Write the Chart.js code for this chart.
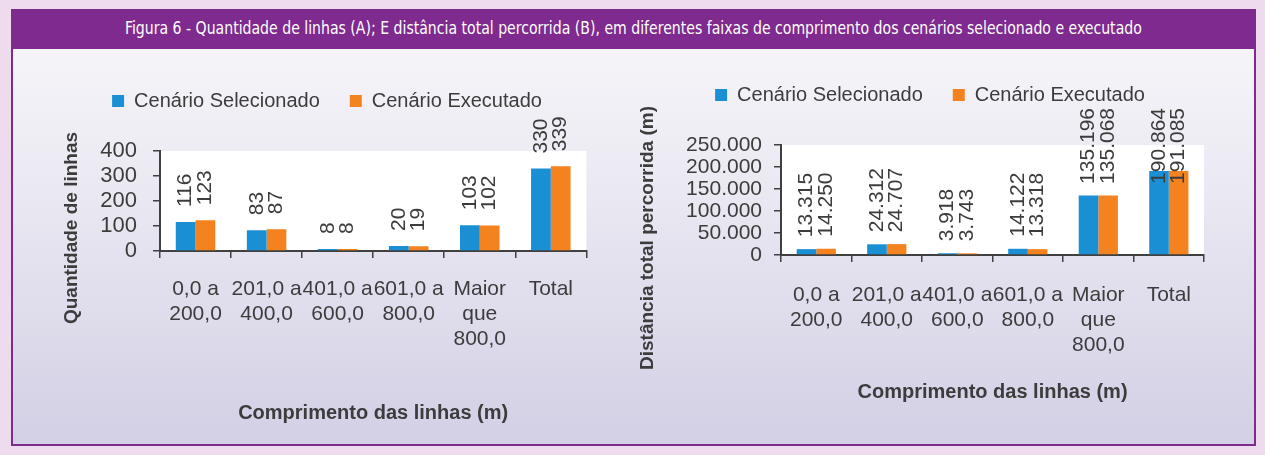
<!DOCTYPE html>
<html>
<head>
<meta charset="utf-8">
<script src="https://cdn.jsdelivr.net/npm/chart.js@4/dist/chart.umd.min.js"></script>
<style>
  body { margin: 0; width: 1265px; height: 455px; overflow: hidden; background: #eedcee; font-family: "Liberation Sans", Arial, sans-serif; }
  .frame {
    position: absolute; left: 11px; top: 9px; width: 1245px; height: 437px;
    box-sizing: border-box; border: 2px solid #7d2b8d;
    background: linear-gradient(to bottom, #f8f8fb 0%, #e9e7f1 45%, #d3cfe5 100%);
  }
  .titlebar {
    position: absolute; left: 0; top: 0; right: 0; height: 38px;
    background: #7e2a8e; color: #fff; text-align: center; white-space: nowrap;
  }
  .titlebar span {
    display: inline-block; margin-top: 7px; font-size: 17px; line-height: 20px;
    font-family: "Liberation Sans Narrow", "DejaVu Sans Condensed", sans-serif; font-stretch: condensed;
  }
  canvas { position: absolute; }
</style>
</head>
<body>
<div class="frame">
  <div class="titlebar"><span id="fig-title">Figura 6 - Quantidade de linhas (A); E distância total percorrida (B), em diferentes faixas de comprimento dos cenários selecionado e executado</span></div>
</div>
<canvas id="chart-count" width="552" height="385" style="left:40px; top:55px; width:552px; height:385px"></canvas>
<canvas id="chart-dist" width="582" height="385" style="left:630px; top:55px; width:582px; height:385px"></canvas>
<script>
const categories = [['0,0 a', '200,0'], ['201,0 a', '400,0'], ['401,0 a', '600,0'], ['601,0 a', '800,0'], ['Maior', 'que', '800,0'], 'Total'];
const seriesNames = ['Cenário Selecionado', 'Cenário Executado'];
const countSelected = [116, 83, 8, 20, 103, 330];
const countExecuted = [123, 87, 8, 19, 102, 339];
const distSelected = [13315, 24312, 3918, 14122, 135196, 190864];
const distExecuted = [14250, 24707, 3743, 13318, 135068, 191085];
const countTicks = [0, 100, 200, 300, 400];
const distTicks = [0, 50000, 100000, 150000, 200000, 250000];

const BLUE = '#1a8fd3';
const ORANGE = '#f4821f';
const TEXT = '#3c3c3c';

Chart.defaults.font.family = '"Liberation Sans", Arial, sans-serif';
Chart.defaults.color = TEXT;

// title bar text is condensed, stretch it to the reference width
const titleSpan = document.getElementById('fig-title');
titleSpan.style.transform = `scaleX(${1017 / titleSpan.offsetWidth})`;

const fmt = v => String(v).replace(/\B(?=(\d{3})+(?!\d))/g, '.');

const plotBackground = {
  id: 'plotBackground',
  beforeDraw(chart) {
    const { ctx, chartArea: a } = chart;
    ctx.save();
    ctx.fillStyle = '#ffffff';
    ctx.fillRect(a.left, a.top, a.right - a.left, a.bottom - a.top);
    ctx.restore();
  }
};

function legendGap(gap) {
  return {
    id: 'legendGap',
    beforeInit(chart) {
      const fit = chart.legend.fit;
      chart.legend.fit = function () {
        fit.call(this);
        this.height += gap;
      };
    }
  };
}

function valueLabels(gap, minTop) {
  return {
    id: 'valueLabels',
    afterDatasetsDraw(chart) {
      const { ctx } = chart;
      ctx.save();
      ctx.font = '21px "Liberation Sans", Arial, sans-serif';
      ctx.fillStyle = TEXT;
      ctx.textAlign = 'left';
      ctx.textBaseline = 'middle';
      chart.data.datasets.forEach((ds, i) => {
        chart.getDatasetMeta(i).data.forEach((bar, j) => {
          const text = fmt(ds.data[j]);
          const w = ctx.measureText(text).width;
          let base = bar.y - gap;
          if (base - w < minTop) base = minTop + w;
          ctx.save();
          ctx.translate(bar.x, base);
          ctx.rotate(-Math.PI / 2);
          ctx.fillText(text, 0, 0);
          ctx.restore();
        });
      });
      ctx.restore();
    }
  };
}

function yTitle(text, x, y) {
  return {
    id: 'yTitle',
    afterDraw(chart) {
      const { ctx } = chart;
      ctx.save();
      ctx.font = 'bold 19px "Liberation Sans", Arial, sans-serif';
      ctx.fillStyle = TEXT;
      ctx.textAlign = 'center';
      ctx.textBaseline = 'middle';
      ctx.translate(x, y);
      ctx.rotate(-Math.PI / 2);
      ctx.fillText(text, 0, 0);
      ctx.restore();
    }
  };
}

function makeChart(id, cfg) {
  const axisLine = { display: true, color: '#404040', width: 2 };
  return new Chart(document.getElementById(id), {
    type: 'bar',
    data: {
      labels: categories,
      datasets: [
        { label: seriesNames[0], data: cfg.selected, backgroundColor: BLUE, categoryPercentage: 0.556, barPercentage: 1 },
        { label: seriesNames[1], data: cfg.executed, backgroundColor: ORANGE, categoryPercentage: 0.556, barPercentage: 1 }
      ]
    },
    options: {
      responsive: false,
      animation: false,
      layout: { padding: { left: cfg.padLeft, top: cfg.padTop, right: 0, bottom: 0 } },
      plugins: {
        legend: {
          labels: { boxWidth: 12, boxHeight: 12, padding: 30, color: TEXT, font: { size: 20 } }
        },
        tooltip: { enabled: false }
      },
      scales: {
        x: {
          afterFit: s => { s.height = cfg.xHeight; },
          border: axisLine,
          grid: { drawOnChartArea: false, drawTicks: true, tickLength: 7, color: '#404040', lineWidth: 1.5 },
          ticks: { autoSkip: false, maxRotation: 0, minRotation: 0, padding: cfg.xPad, color: TEXT, font: { size: 21, lineHeight: 1.19 } },
          title: { display: true, text: 'Comprimento das linhas (m)', color: TEXT, font: { size: 20, weight: 'bold' }, padding: { top: 0, bottom: cfg.xTitlePad } }
        },
        y: {
          min: 0,
          max: cfg.ticks[cfg.ticks.length - 1],
          afterFit: s => { s.width = cfg.yWidth; },
          border: axisLine,
          grid: { drawOnChartArea: false, drawTicks: true, tickLength: 7, color: '#404040', lineWidth: 1.5 },
          ticks: { autoSkip: false, stepSize: cfg.ticks[1] - cfg.ticks[0], padding: cfg.yPad, color: TEXT, font: { size: cfg.yFont, lineHeight: 1 }, callback: v => fmt(v) }
        }
      }
    },
    plugins: [plotBackground, legendGap(30), valueLabels(cfg.labelGap, cfg.minTop), yTitle(cfg.yTitle, cfg.yTitleX, cfg.yTitleY)]
  });
}

makeChart('chart-count', {
  selected: countSelected, executed: countExecuted, ticks: countTicks,
  padLeft: 22, padTop: 6, yWidth: 98, xHeight: 189, xPad: 19, xTitlePad: 15,
  yPad: 16, yFont: 22, labelGap: 15, minTop: 0,
  yTitle: 'Quantidade de linhas', yTitleX: 32, yTitleY: 173
});

makeChart('chart-dist', {
  selected: distSelected, executed: distExecuted, ticks: distTicks,
  padLeft: 18, padTop: 0, yWidth: 133, xHeight: 185, xPad: 21, xTitlePad: 36,
  yPad: 12, yFont: 21, labelGap: 12, minTop: 53,
  yTitle: 'Distância total percorrida (m)', yTitleX: 18, yTitleY: 183
});
</script>
</body>
</html>
